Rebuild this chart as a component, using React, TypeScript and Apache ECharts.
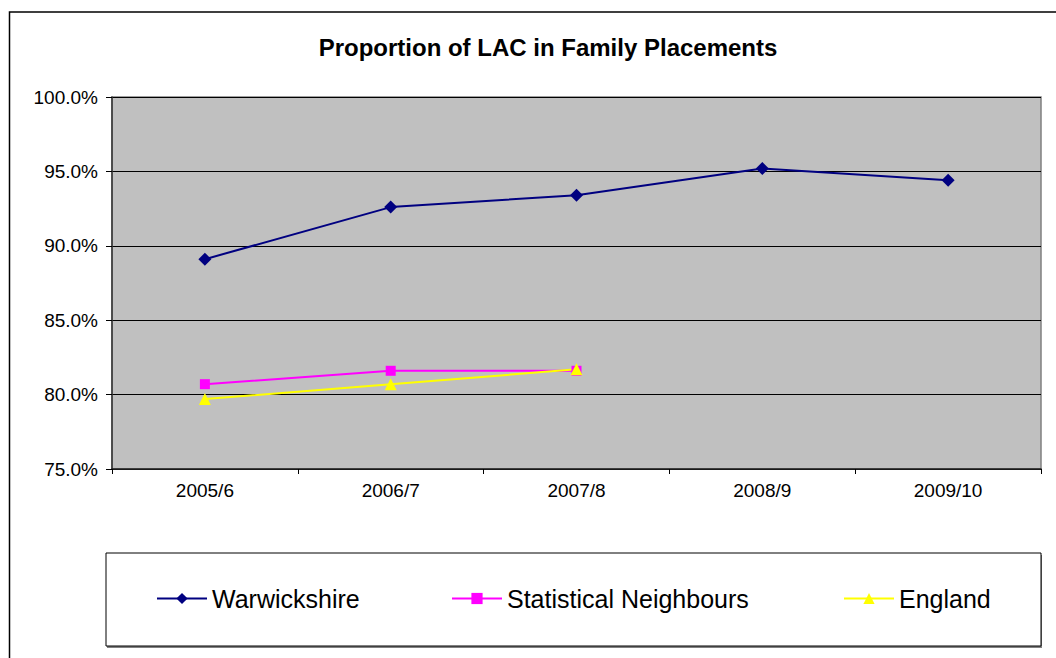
import React, { useEffect, useRef } from "react";
import * as echarts from "echarts";

const categories = ["2005/6", "2006/7", "2007/8", "2008/9", "2009/10"];
const warwickshire = [89.1, 92.6, 93.4, 95.2, 94.4];
const statNeighbours: (number | null)[] = [80.7, 81.6, 81.6, null, null];
const england: (number | null)[] = [79.7, 80.7, 81.7, null, null];
const titleText = "Proportion of LAC in Family Placements";

export default function App() {
  const ref = useRef<HTMLDivElement>(null);
  useEffect(() => {
    if (!ref.current) return;
    const chart = echarts.init(ref.current, null, { renderer: "svg" });
    const font = "Liberation Sans, Arial, sans-serif";
    const legendCommon = {
      orient: "horizontal",
      top: 581,
      itemWidth: 50,
      itemHeight: 14,
      textStyle: { fontFamily: font, fontSize: 25, color: "#000" },
    };
    chart.setOption({
      animation: false,
      backgroundColor: "#fff",
      title: {
        text: titleText,
        left: 543,
        textAlign: "center",
        top: 30,
        textStyle: { fontFamily: font, fontSize: 24, fontWeight: "bold", color: "#000" },
      },
      graphic: [
        {
          type: "rect",
          shape: { x: 9.5, y: 12, width: 1060, height: 700 },
          style: { fill: "none", stroke: "#000", lineWidth: 1.5 },
          z: 10,
        },
        {
          type: "rect",
          shape: { x: 107, y: 555, width: 935, height: 93 },
          style: { fill: "#808080", stroke: "none" },
          z: -1,
        },
        {
          type: "rect",
          shape: { x: 106, y: 553, width: 935, height: 93 },
          style: { fill: "#fff", stroke: "#000", lineWidth: 1 },
          z: 0,
        },
      ],
      legend: [
        { ...legendCommon, left: 151, data: ["Warwickshire"] },
        { ...legendCommon, left: 446, data: ["Statistical Neighbours"] },
        { ...legendCommon, left: 838, data: ["England"] },
      ],
      grid: {
        left: 112,
        top: 97,
        right: 15,
        bottom: 189,
        show: true,
        backgroundColor: "#C0C0C0",
        borderColor: "#808080",
        borderWidth: 1.5,
      },
      xAxis: {
        type: "category",
        data: categories,
        boundaryGap: true,
        axisLine: { lineStyle: { color: "#222", width: 1.5 } },
        axisTick: { show: true, alignWithLabel: false, interval: 0, length: 5, lineStyle: { color: "#000" } },
        axisLabel: { fontFamily: font, fontSize: 19, color: "#000", margin: 12, interval: 0 },
      },
      yAxis: {
        type: "value",
        min: 75,
        max: 100,
        interval: 5,
        axisLine: { show: true, lineStyle: { color: "#333", width: 1.5 } },
        axisTick: { show: true, length: 6, lineStyle: { color: "#000" } },
        splitLine: { show: true, lineStyle: { color: "#000", width: 1 } },
        axisLabel: {
          fontFamily: font,
          fontSize: 19,
          color: "#000",
          margin: 14,
          formatter: (v: number) => v.toFixed(1) + "%",
        },
      },
      series: [
        {
          name: "Warwickshire",
          type: "line",
          data: warwickshire,
          symbol: "diamond",
          symbolSize: 13,
          lineStyle: { color: "#000080", width: 2 },
          itemStyle: { color: "#000080" },
        },
        {
          name: "Statistical Neighbours",
          type: "line",
          data: statNeighbours,
          symbol: "rect",
          symbolSize: 10,
          lineStyle: { color: "#FF00FF", width: 2 },
          itemStyle: { color: "#FF00FF" },
        },
        {
          name: "England",
          type: "line",
          data: england,
          symbol: "triangle",
          symbolSize: 12,
          lineStyle: { color: "#FFFF00", width: 2 },
          itemStyle: { color: "#FFFF00" },
        },
      ],
    });
    return () => chart.dispose();
  }, []);
  return (
    <div
      ref={ref}
      style={{ position: "absolute", left: 0, top: 0, width: 1056, height: 658 }}
    />
  );
}
